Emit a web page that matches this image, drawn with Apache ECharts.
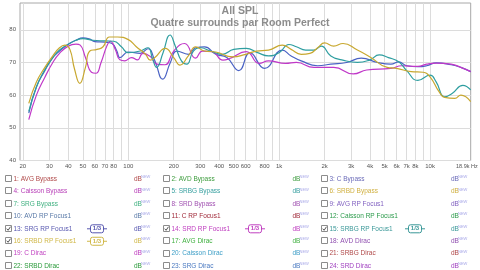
<!DOCTYPE html>
<html>
<head>
<meta charset="utf-8">
<script src="https://cdn.jsdelivr.net/npm/echarts@6/dist/echarts.min.js"></script>
<style>
  html, body { margin: 0; padding: 0; background: #fff; }
  #chart { width: 480px; height: 270px; }
</style>
</head>
<body>
<div id="chart"></div>
<script>
// axis ticks
var xLabelValues = [20, 30, 40, 50, 60, 70, 80, 100, 200, 300, 400, 500, 600, 800,
  1000, 2000, 3000, 4000, 5000, 6000, 7000, 8000, 10000];
var xGridValues = [20, 30, 40, 50, 60, 70, 80, 90, 100, 200, 300, 400, 500, 600, 700, 800, 900,
  1000, 2000, 3000, 4000, 5000, 6000, 7000, 8000, 9000, 10000];
var yTicks = [40, 50, 60, 70, 80];

// 13: SRG RP Focus1
var freqSRG = [21.9, 24.6, 28, 31.6, 35, 40, 45, 50, 55, 60, 70, 78, 84, 88, 100, 120, 135, 150, 169, 190,
  210, 250, 280, 320, 380, 450, 540, 640, 800, 1050, 1200, 1400, 1800, 2200, 2800, 3500, 4500, 5500,
  6200, 7000, 8300, 9500, 11000, 13800, 16000, 18600];
var dbSRG = [54.5, 62.5, 67.5, 71.5, 73.5, 75.6, 76.8, 77.5, 77.2, 76.4, 76.2, 75.8, 73.5, 71.5, 73.2, 72.8,
  74.2, 70.5, 64.9, 70, 73.5, 72.5, 74.5, 74.8, 72.5, 71.5, 67.5, 73, 68.2, 73.8, 72, 70.5, 69, 69.5, 70,
  71.3, 70, 69.5, 70.2, 69, 68.7, 69.0, 69.9, 69.3, 68.5, 67.2];

// 14: SRD RP Focus1
var freqSRD = [21.9, 24.6, 28, 31.6, 35, 40, 45, 48, 52, 57, 61, 66, 72, 76, 82, 88, 95, 105, 115, 125,
  140, 155, 175, 200, 236, 279, 310, 360, 424, 470, 605, 737, 850, 1100, 1300, 1700, 2300, 3100, 3800,
  5500, 6500, 8300, 9500, 11000, 13800, 16000, 18600];
var dbSRD = [52.5, 60, 65.5, 70, 72.8, 75, 75.6, 75.3, 71.5, 67, 66.7, 70, 75, 76.5, 74, 70.8, 70.5, 71.5,
  70.8, 72.8, 71.8, 69.5, 69.3, 73.5, 75.8, 71.3, 73.5, 73.3, 70.7, 71.2, 73.3, 69.7, 70.5, 69.7, 70,
  68.5, 68.5, 66.5, 67.7, 68.2, 69, 68.8, 69.5, 69.8, 69.5, 68.5, 67.2];

// 15: SRBG RP Focus1
var freqSRBG = [21.9, 24.6, 28, 31.6, 35, 40, 45, 50, 58, 70, 80, 90, 100, 120, 135, 145, 154, 170, 189,
  205, 225, 244, 270, 300, 350, 420, 500, 605, 720, 850, 1000, 1160, 1300, 1500, 1700, 1900, 2200, 2600,
  3300, 4000, 4600, 5300, 6200, 7000, 8300, 10000, 11000, 12500, 14000, 16500, 18600];
var dbSRBG = [55, 62.5, 67.8, 71.5, 73.8, 75.6, 76.8, 77.3, 76.8, 76.6, 76.5, 74.8, 73, 73.5, 74.5, 71,
  68.5, 73, 78.4, 75, 70.5, 69.5, 73.5, 74.5, 73.5, 72.5, 74, 74.3, 73, 72, 73, 75.5, 74.8, 73.8, 73.8,
  75, 72, 70.8, 70, 70.8, 72.3, 71.5, 70.2, 67.5, 64.5, 66.1, 64, 59.5, 60.5, 63, 61.6];

// 16: SRBD RP Focus1
var freqSRBD = [21.9, 24.6, 28, 31.6, 35, 38, 41, 44, 47.7, 52, 55.6, 62, 68, 75, 85, 100, 113, 130, 140,
  150, 176, 200, 220, 250, 280, 320, 380, 492, 600, 704, 850, 1050, 1200, 1400, 1600, 1800, 2000, 2300,
  2650, 3300, 4000, 5200, 6000, 7500, 9000, 10000, 11500, 12500, 14600, 16000, 18600];
var dbSRBD = [57.5, 64, 68.5, 72, 74.5, 75.3, 74, 68, 63.6, 68.5, 73.5, 74, 74.8, 77.8, 77.8, 77, 74.8,
  72.5, 70.7, 71.5, 74.3, 71.5, 69.2, 72, 74.8, 73.5, 73.2, 71.7, 72.5, 73.5, 73.8, 75.3, 74, 72.5, 72.8,
  74.5, 76, 75, 75.8, 73.8, 71.7, 68.5, 68.2, 67.2, 67, 65.6, 61, 59.3, 59, 60, 58];

// measurement list under the graph
var legendNames = ['1: AVG Bypass', '2: AVD Bypass', '3: C Bypass',
  '4: Caisson Bypass', '5: SRBG Bypass', '6: SRBD Bypass',
  '7: SRG Bypass', '8: SRD Bypass', '9: AVG RP Focus1',
  '10: AVD RP Focus1', '11: C RP Focus1', '12: Caisson RP Focus1',
  '13: SRG RP Focus1', '14: SRD RP Focus1', '15: SRBG RP Focus1',
  '16: SRBD RP Focus1', '17: AVG Dirac', '18: AVD Dirac',
  '19: C Dirac', '20: Caisson Dirac', '21: SRBG Dirac',
  '22: SRBD Dirac', '23: SRG Dirac', '24: SRD Dirac'];
var legendColors = ['#b04848', '#3c9c3c', '#6a6ab8',
  '#b840b8', '#38a0a0', '#d0b040',
  '#40b080', '#a050b0', '#8060c0',
  '#5a7aa8', '#a02838', '#2a9a4a',
  '#5858b0', '#c040c0', '#3a9898',
  '#d0b848', '#40b040', '#9050b0',
  '#c040c0', '#40a0c8', '#b04848',
  '#2a9a3a', '#4878c0', '#a040c0'];
var checkedItems = [13, 14, 15, 16];

var lineColors = ['#4a62c4', '#c038c8', '#2e9ea0', '#c8a830'];

function pairs(f, d) {
  return f.map(function (v, i) { return [v, d[i]]; });
}

var font = '"Liberation Sans", Arial, sans-serif';

// legend drawn as graphic elements
var colBox = [5.5, 163.5, 321.5];
var colBadge = [97, 255, 415];
var colDb = [134, 292.5, 451];
var graphics = [];
legendNames.forEach(function (name, i) {
  var row = Math.floor(i / 3), col = i % 3;
  var cy = 179 + row * 12.45;
  var bx = colBox[col];
  var color = legendColors[i];
  graphics.push({
    type: 'rect', shape: { x: bx, y: Math.round(cy) - 3.5, width: 6, height: 6 },
    style: { fill: '#fff', stroke: '#8c8c8c', lineWidth: 1 }
  });
  if (checkedItems.indexOf(i + 1) >= 0) {
    var by = Math.round(cy) - 3.5;
    graphics.push({
      type: 'polyline', shape: { points: [[bx + 1.2, by + 3.2], [bx + 2.6, by + 4.8], [bx + 5, by + 1.2]] },
      style: { stroke: '#555', lineWidth: 1, fill: null }
    });
    var cx = colBadge[col];
    graphics.push({
      type: 'line', shape: { x1: cx - 10, y1: cy, x2: cx + 10, y2: cy },
      style: { stroke: color, lineWidth: 1 }
    });
    graphics.push({
      type: 'rect', shape: { x: cx - 6.5, y: cy - 4, width: 13, height: 8, r: 2 },
      style: { fill: '#fff', stroke: color, lineWidth: 1 }
    });
    graphics.push({
      type: 'text',
      style: { text: '1/3', x: cx, y: cy, align: 'center', verticalAlign: 'middle', fill: color, font: 'bold 6px ' + font }
    });
  }
  graphics.push({
    type: 'text',
    style: { text: name, x: bx + 8, y: cy, verticalAlign: 'middle', fill: color, font: '6.5px ' + font }
  });
  graphics.push({
    type: 'text',
    style: { text: 'dB', x: colDb[col], y: cy, verticalAlign: 'middle', fill: color, font: '6.5px ' + font }
  });
  graphics.push({
    type: 'text',
    style: { text: 'NEW', x: colDb[col] + 7, y: cy - 2, verticalAlign: 'middle', fill: '#a8a8e8', font: '4px ' + font }
  });
});

// last x label and cut-off top y label
graphics.push({
  type: 'text',
  style: { text: '18.9k Hz', x: 456, y: 166, verticalAlign: 'middle', fill: '#555', font: '5.5px ' + font }
});
graphics.push({
  type: 'text',
  style: { text: '90', x: 16.5, y: -1.5, align: 'right', verticalAlign: 'middle', fill: '#555', font: '6px ' + font }
});

var chart = echarts.init(document.getElementById('chart'));
chart.setOption({
  animation: false,
  backgroundColor: '#fff',
  title: {
    text: 'All SPL',
    subtext: 'Quatre surrounds par Room Perfect',
    left: 'center',
    top: 6,
    itemGap: 1,
    padding: 0,
    textStyle: { fontSize: 10.5, fontWeight: 'bold', color: '#8c8c8c', fontFamily: font },
    subtextStyle: { fontSize: 10.5, fontWeight: 'bold', color: '#8c8c8c', fontFamily: font }
  },
  grid: {
    left: 20, right: 9.3, top: 3, height: 157.5,
    show: true, borderColor: '#a8a8a8', borderWidth: 1, backgroundColor: '#fff'
  },
  xAxis: {
    type: 'log',
    logBase: 10,
    min: 19.15,
    max: 18600,
    axisLine: { show: false },
    axisTick: { show: false, customValues: xGridValues },
    axisLabel: {
      customValues: xLabelValues,
      fontSize: 6, color: '#555', margin: 3, fontFamily: font,
      formatter: function (v) { return v >= 1000 ? (v / 1000) + 'k' : String(v); }
    },
    splitLine: { show: true, lineStyle: { color: '#dcdcdc', width: 1 } }
  },
  yAxis: {
    type: 'value',
    min: 40,
    max: 88.2,
    interval: 10,
    axisLine: { show: false },
    axisTick: { show: false, customValues: yTicks },
    axisLabel: { customValues: yTicks, fontSize: 6, color: '#555', margin: 4, fontFamily: font },
    splitLine: { show: true, lineStyle: { color: '#dcdcdc', width: 1 } }
  },
  graphic: graphics,
  series: [
    { name: '13: SRG RP Focus1', type: 'line', data: pairs(freqSRG, dbSRG) },
    { name: '14: SRD RP Focus1', type: 'line', data: pairs(freqSRD, dbSRD) },
    { name: '15: SRBG RP Focus1', type: 'line', data: pairs(freqSRBG, dbSRBG) },
    { name: '16: SRBD RP Focus1', type: 'line', data: pairs(freqSRBD, dbSRBD) }
  ].map(function (s, i) {
    s.smooth = 0.5;
    s.showSymbol = false;
    s.symbol = 'none';
    s.lineStyle = { width: 1.2, color: lineColors[i] };
    s.itemStyle = { color: lineColors[i] };
    return s;
  })
});
</script>
</body>
</html>
